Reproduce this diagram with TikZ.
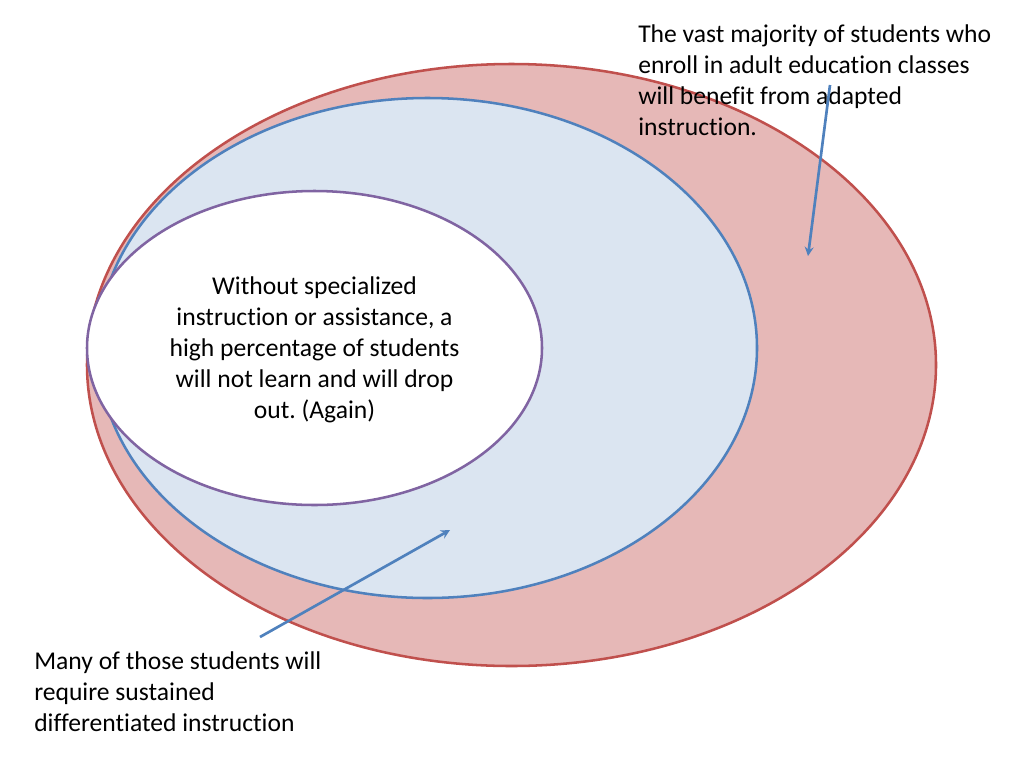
\documentclass[tikz,border=0pt]{standalone}
\usepackage{fontspec}
\setmainfont{Carlito}[Ligatures=CommonOff]
\usetikzlibrary{arrows}
\frenchspacing
\definecolor{outerline}{RGB}{192,80,77}
\definecolor{outerfill}{RGB}{230,184,183}
\definecolor{midline}{RGB}{79,129,189}
\definecolor{midfill}{RGB}{219,229,241}
\definecolor{innerline}{RGB}{128,100,162}
\tikzset{
  note/.style={font=\fontsize{19.2}{23.25}\selectfont, inner sep=0pt, align=left},
  pointer/.style={->,>=stealth,line width=2pt,color=midline}
}
\begin{document}
\begin{tikzpicture}[x=0.75pt,y=-0.75pt]
\useasboundingbox (0,0) rectangle (1024,768);

\filldraw[line width=1.9pt,draw=outerline,fill=outerfill] (511.5,365) ellipse [x radius=424.5, y radius=301];
\filldraw[line width=1.9pt,draw=midline,fill=midfill] (427.5,348) ellipse [x radius=329.5, y radius=250];
\filldraw[line width=1.9pt,draw=innerline,fill=white] (314.5,348) ellipse [x radius=227.5, y radius=157];

\node[note,align=center] (dropout) at (314.5,350) {Without specialized\\instruction or assistance, a\\high percentage of students\\will not learn and will drop\\out. (Again)};

\node[note,anchor=north west] (majority) at (638,24) {The vast majority of students who\\enroll in adult education classes\\will benefit from adapted\\instruction.};
\node[note,anchor=north west] (sustained) at (34,651) {Many of those students will\\require sustained\\differentiated instruction};

\coordinate (majstart) at (830,85);
\coordinate (majend) at (808,256);
\coordinate (susstart) at (260,637);
\coordinate (susend) at (450,530);

\draw[pointer] (majstart) -- (majend);
\draw[pointer] (susstart) -- (susend);
\end{tikzpicture}
\end{document}
